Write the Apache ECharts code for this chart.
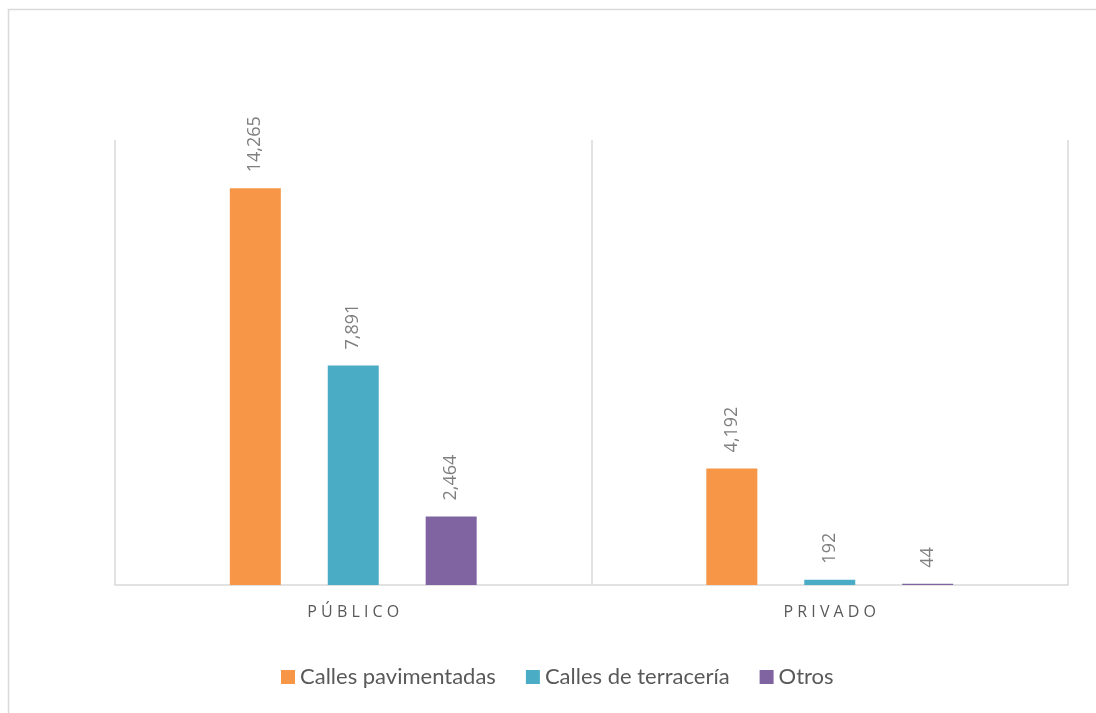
<!DOCTYPE html>
<html>
<head>
<meta charset="utf-8">
<script src="https://cdn.jsdelivr.net/npm/echarts@6/dist/echarts.min.js"></script>
<style>
    html, body { margin: 0; padding: 0; background: #fff; }
    #chart { width: 1096px; height: 713px; }
</style>
</head>
<body>
<div id="chart"></div>
<script>
// datos
const categorias = ["PÚBLICO", "PRIVADO"]
const seriesNombres = ["Calles pavimentadas", "Calles de terracería", "Otros"]
const pavimentadas = [14265, 4192]
const terraceria = [7891, 192]
const otros = [2464, 44]
const colores = ["#f79646", "#4bacc6", "#8064a2"]

const valores = [pavimentadas, terraceria, otros]

var myChart = echarts.init(document.getElementById("chart"))

myChart.setOption({
    animation: false,
    color: colores,
    graphic: [
        {
            type: "rect",
            left: 6,
            top: 7,
            shape: { width: 1100, height: 720 },
            style: { fill: "none", stroke: "#d9d9d9", lineWidth: 1.5 },
            silent: true,
        },
    ],
    legend: {
        data: seriesNombres,
        bottom: 20,
        left: 276,
        icon: "rect",
        itemWidth: 14,
        itemHeight: 14,
        itemGap: 30,
        textStyle: {
            fontFamily: "Lato",
            fontSize: 22,
            color: "#595959",
        },
    },
    grid: {
        left: 115,
        right: 28,
        top: 140,
        bottom: 128,
    },
    xAxis: {
        type: "category",
        data: categorias,
        axisLine: { lineStyle: { color: "#d9d9d9", width: 1.5 } },
        axisTick: { show: false },
        splitLine: { show: true, lineStyle: { color: "#d9d9d9", width: 1.5 } },
        axisLabel: {
            margin: 19,
            fontFamily: "Open Sans",
            fontSize: 16,
            color: "#595959",
            formatter: (v) => v.split("").join(" "),
        },
    },
    yAxis: {
        type: "value",
        min: 0,
        max: 16000,
        show: false,
        splitLine: { show: false },
    },
    series: valores.map((data, i) => ({
        name: seriesNombres[i],
        type: "bar",
        data: data,
        barWidth: 51,
        barGap: "92%",
        label: {
            show: true,
            position: "top",
            rotate: 90,
            align: "left",
            verticalAlign: "middle",
            distance: 16,
            fontFamily: "Open Sans",
            fontSize: 18,
            color: "#7f7f7f",
            formatter: (p) => p.value.toLocaleString("en-US"),
        },
    })),
})
</script>
</body>
</html>
